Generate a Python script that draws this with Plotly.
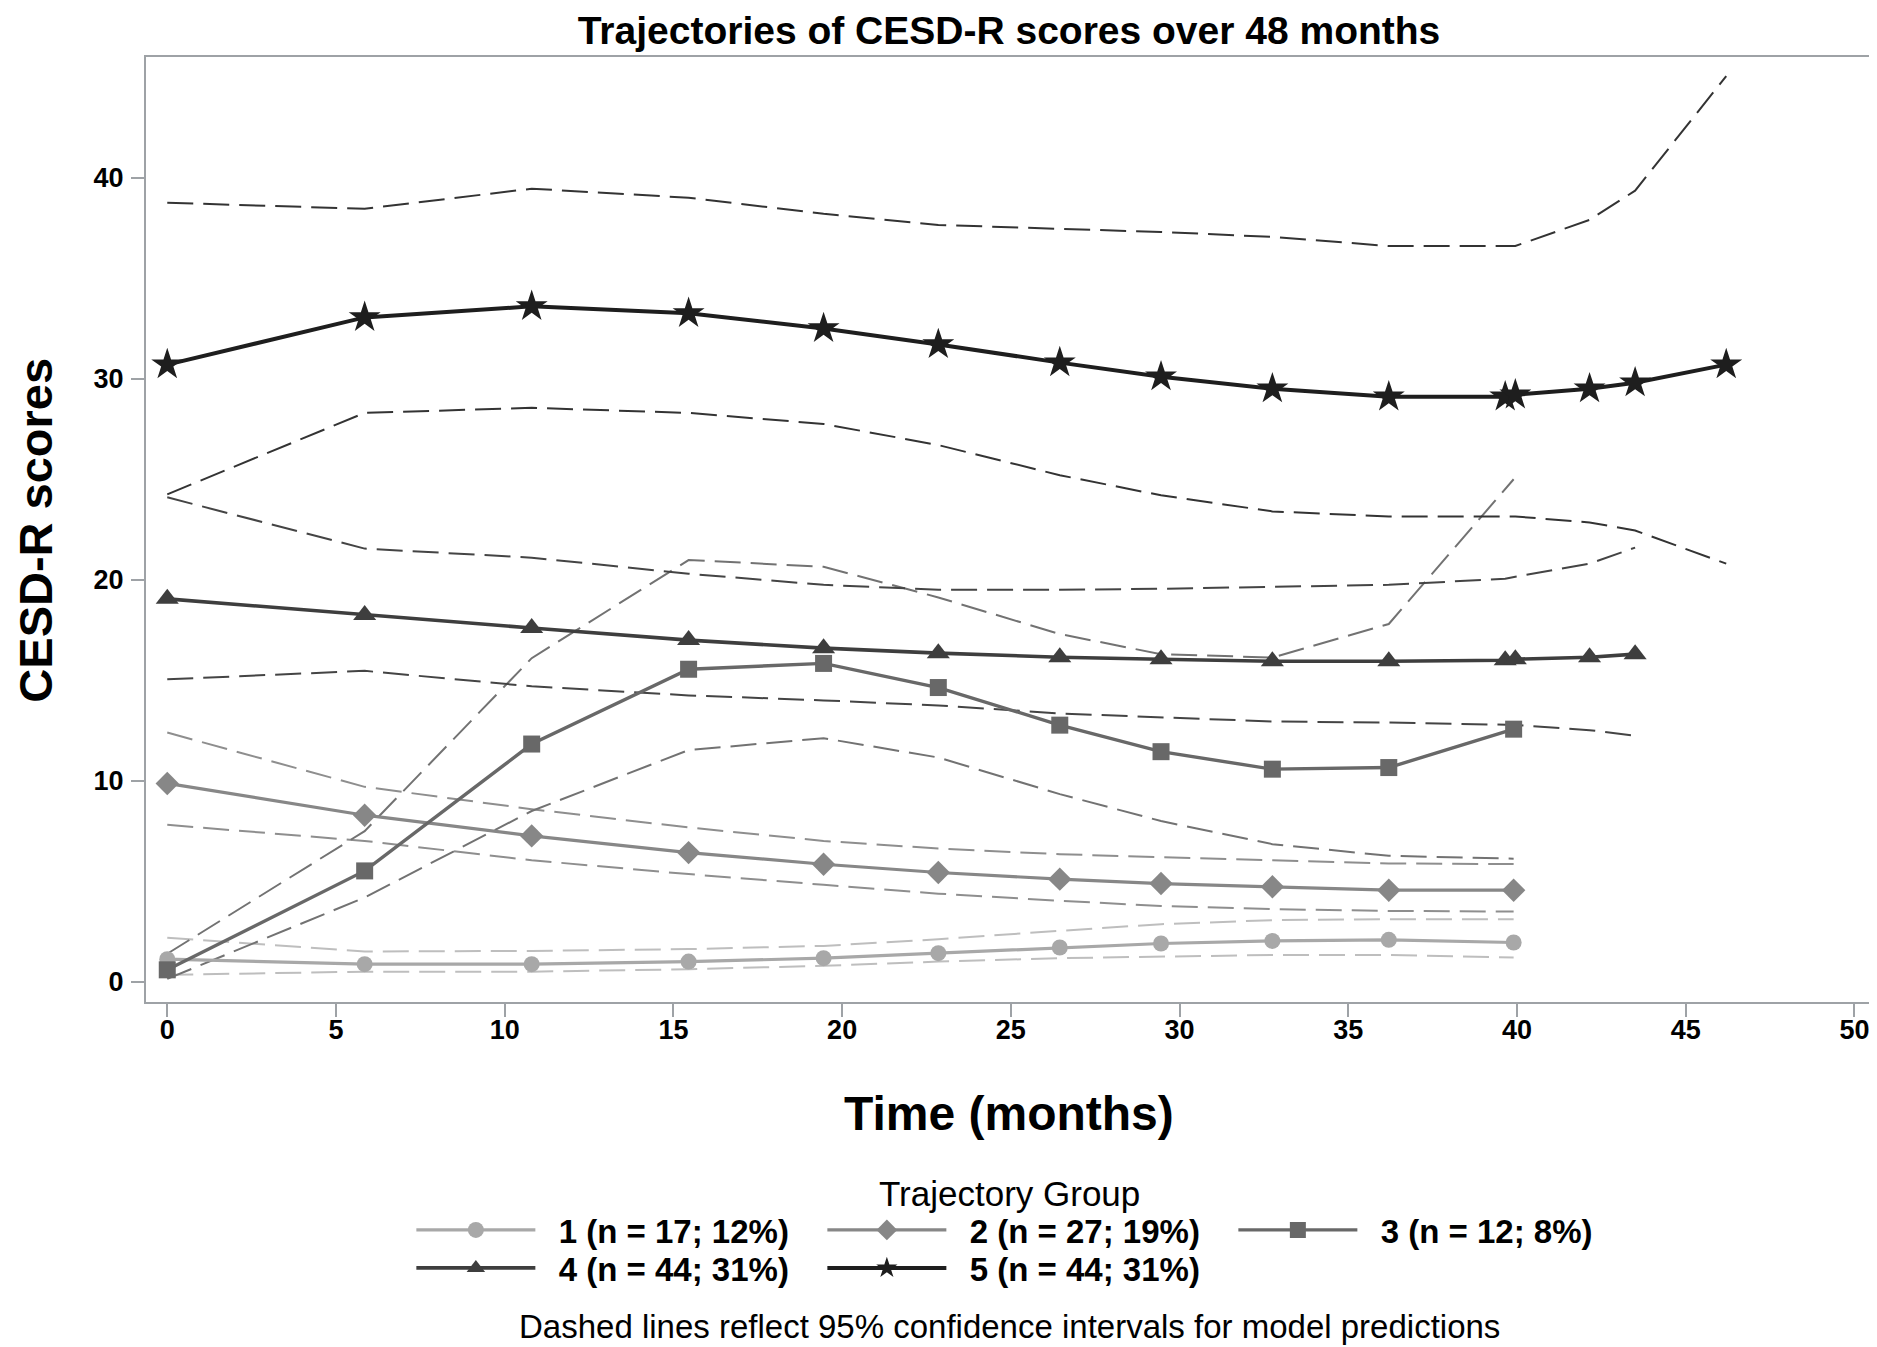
import plotly.graph_objects as go

# ---------------- data ----------------
time_short = [0, 5.85, 10.8, 15.45, 19.45, 22.85, 26.45, 29.45, 32.75, 36.2, 39.9]
time_g4 = [0, 5.85, 10.8, 15.45, 19.45, 22.85, 26.45, 29.45, 32.75, 36.2, 39.65, 39.95, 42.15, 43.5]
time_g5 = [0, 5.85, 10.8, 15.45, 19.45, 22.85, 26.45, 29.45, 32.75, 36.2, 39.65, 39.95, 42.15, 43.5, 46.2]

g1_mean = [1.13, 0.88, 0.88, 1.01, 1.18, 1.43, 1.71, 1.91, 2.04, 2.09, 1.96]
g1_upper = [2.2, 1.51, 1.54, 1.63, 1.79, 2.12, 2.54, 2.87, 3.07, 3.12, 3.12]
g1_lower = [0.35, 0.51, 0.51, 0.63, 0.8, 1.01, 1.18, 1.24, 1.34, 1.34, 1.21]

g2_mean = [9.87, 8.29, 7.26, 6.43, 5.85, 5.44, 5.11, 4.89, 4.73, 4.56, 4.56]
g2_upper = [12.4, 9.7, 8.59, 7.68, 7.01, 6.63, 6.35, 6.22, 6.05, 5.89, 5.86]
g2_lower = [7.81, 7.01, 6.05, 5.36, 4.83, 4.39, 4.03, 3.78, 3.62, 3.53, 3.5]

g3_mean = [0.6, 5.52, 11.83, 15.55, 15.84, 14.64, 12.77, 11.45, 10.58, 10.66, 12.57]
g3_upper = [1.4, 7.5, 16.1, 20.98, 20.65, 19.12, 17.3, 16.3, 16.13, 17.8, 25.0]
g3_lower = [0.15, 4.2, 8.5, 11.53, 12.12, 11.16, 9.34, 8.0, 6.85, 6.27, 6.13]

g4_mean = [19.05, 18.25, 17.6, 17.0, 16.6, 16.35, 16.15, 16.05, 15.95, 15.95, 16.0, 16.05, 16.15, 16.3]
g4_upper = [24.1, 21.55, 21.1, 20.3, 19.75, 19.5, 19.5, 19.55, 19.65, 19.75, 20.05, 20.15, 20.8, 21.6]
g4_lower = [15.05, 15.47, 14.7, 14.25, 14.0, 13.75, 13.35, 13.15, 12.95, 12.9, 12.8, 12.78, 12.52, 12.24]

g5_mean = [30.7, 33.05, 33.6, 33.25, 32.5, 31.7, 30.8, 30.1, 29.5, 29.1, 29.1, 29.2, 29.5, 29.8, 30.7]
g5_upper = [38.75, 38.45, 39.45, 39.0, 38.2, 37.65, 37.45, 37.3, 37.05, 36.6, 36.6, 36.6, 37.9, 39.35, 45.05]
g5_lower = [24.25, 28.3, 28.55, 28.3, 27.75, 26.7, 25.2, 24.2, 23.4, 23.15, 23.15, 23.15, 22.85, 22.45, 20.8]

group_names = ["1 (n = 17; 12%)", "2 (n = 27; 19%)", "3 (n = 12; 8%)",
               "4 (n = 44; 31%)", "5 (n = 44; 31%)"]

x_ticks = [0, 5, 10, 15, 20, 25, 30, 35, 40, 45, 50]
y_ticks = [0, 10, 20, 30, 40]

title_text = "Trajectories of CESD-R scores over 48 months"
x_title = "Time (months)"
y_title = "CESD-R scores"
legend_title = "Trajectory Group"
footnote = "Dashed lines reflect 95% confidence intervals for model predictions"

# ---------------- layout geometry (pixels) ----------------
W, H = 1877, 1347
ML, MR, MT, MB = 137.5, 12.6, 48.8, 353.0
PW, PH = W - ML - MR, H - MT - MB
PLOT_BOTTOM = H - MB


def px_x(px):
    return (px - ML) / PW


def px_y(px):
    return (PLOT_BOTTOM - px) / PH


# ---------------- styling ----------------
FONT = "Liberation Sans, Arial, Helvetica, sans-serif"
line_colors = ["#a8a8a8", "#878787", "#686868", "#3e3e3e", "#1e1e1e"]
ci_colors = ["#bebebe", "#8e8e8e", "#727272", "#444444", "#333333"]
symbols = ["circle", "diamond", "square", "triangle-up", "star"]
msizes = [16, 18, 17, 20, 24]
lwidths = [3.2, 3.2, 3.4, 3.6, 4.0]
legend_ids = ["legend", "legend", "legend", "legend2", "legend2"]
NBSP = "\u00a0"

groups = [
    (time_short, g1_mean, g1_upper, g1_lower),
    (time_short, g2_mean, g2_upper, g2_lower),
    (time_short, g3_mean, g3_upper, g3_lower),
    (time_g4, g4_mean, g4_upper, g4_lower),
    (time_g5, g5_mean, g5_upper, g5_lower),
]

fig = go.Figure()

# confidence-interval dashed lines
for i, (t, m, up, lo) in enumerate(groups):
    for band in (up, lo):
        fig.add_trace(go.Scatter(
            x=t, y=band, mode="lines",
            line=dict(color=ci_colors[i], width=2, dash="26px,10px"),
            showlegend=False, hoverinfo="skip"))

# mean trajectories
for i, (t, m, up, lo) in enumerate(groups):
    fig.add_trace(go.Scatter(
        x=t, y=m, mode="lines+markers", name=NBSP * 2 + group_names[i],
        line=dict(color=line_colors[i], width=lwidths[i]),
        marker=dict(symbol=symbols[i], size=msizes[i], color=line_colors[i],
                    line=dict(width=0)),
        legend=legend_ids[i]))

axis_color = "#9ea2a6"
common_axis = dict(
    ticks="outside", ticklen=13, tickwidth=2, tickcolor=axis_color,
    showline=True, linecolor=axis_color, linewidth=2, mirror=True,
    showgrid=False, zeroline=False,
    tickfont=dict(family=FONT, size=27, color="black", weight="bold"))
fig.update_xaxes(range=[-0.63, 50.52], tickvals=x_ticks,
                 ticklabelstandoff=-10, **common_axis)
fig.update_yaxes(range=[-1.0, 46.0], tickvals=y_ticks,
                 ticklabelstandoff=2, **common_axis)

legend_common = dict(
    orientation="h", xanchor="left", yanchor="middle",
    itemwidth=119, entrywidth=277, entrywidthmode="pixels",
    bgcolor="rgba(0,0,0,0)", borderwidth=0,
    font=dict(family=FONT, size=33, color="black", weight="bold"))

fig.update_layout(
    width=W, height=H,
    margin=dict(l=ML, r=MR, t=MT, b=MB),
    paper_bgcolor="white", plot_bgcolor="white",
    title=dict(text=title_text, x=0.5, xref="paper", xanchor="center",
               y=1.0, yref="container", yanchor="top", pad=dict(t=9),
               font=dict(family=FONT, size=39, color="black", weight="bold")),
    legend=dict(x=px_x(403), y=px_y(1222), **legend_common),
    legend2=dict(x=px_x(403), y=px_y(1260), **legend_common),
    annotations=[
        dict(text=x_title, xref="paper", yref="paper", x=0.5, y=px_y(1106),
             xanchor="center", yanchor="middle", showarrow=False,
             font=dict(family=FONT, size=48, color="black", weight="bold")),
        dict(text=y_title, xref="paper", yref="paper", x=px_x(27), y=px_y(522),
             xanchor="center", yanchor="middle", textangle=-90, showarrow=False,
             font=dict(family=FONT, size=47, color="black", weight="bold")),
        dict(text=legend_title, xref="paper", yref="paper", x=0.5, y=px_y(1186),
             xanchor="center", yanchor="middle", showarrow=False,
             font=dict(family=FONT, size=35, color="black")),
        dict(text=footnote, xref="paper", yref="paper", x=0.5, y=px_y(1319),
             xanchor="center", yanchor="middle", showarrow=False,
             font=dict(family=FONT, size=33, color="black")),
    ],
)

fig.write_html("out.html")
